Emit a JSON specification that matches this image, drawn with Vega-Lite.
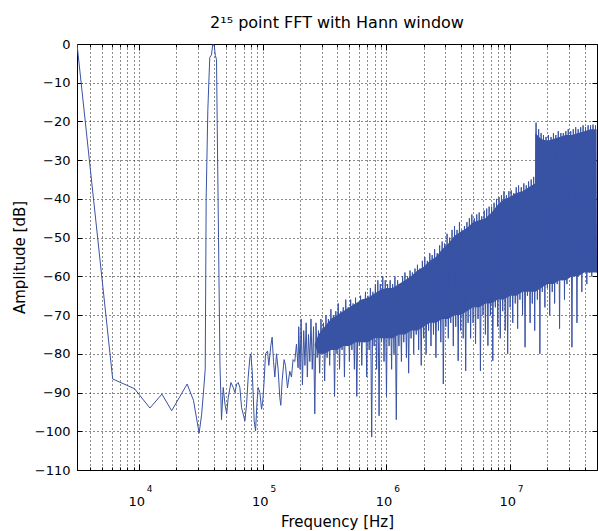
{
"$schema":"https://vega.github.io/schema/vega-lite/v6.json",
"width":520,"height":426,
"autosize":"none",
"padding":{"left":77,"top":44,"right":1,"bottom":61},
"background":"white",
"config":{"view":{"stroke":"#000","strokeWidth":1},"font":"DejaVu Sans"},
"title":{"text":"2¹⁵ point FFT with Hann window","fontSize":16,"fontWeight":"normal","color":"#000","offset":7},
"data":{"values":[
{"f":3140,"db":0},{"f":6104,"db":-86.5},{"f":9155,"db":-89},{"f":12207,"db":-94},{"f":15259,"db":-90.4},{"f":18311,"db":-94.7},{"f":21362,"db":-91},{"f":24414,"db":-87.8},{"f":27466,"db":-92},{"f":30518,"db":-100.5},
{"f":32000,"db":-95.6},{"f":33000,"db":-90.4},{"f":34200,"db":-84},{"f":34800,"db":-40},{"f":35900,"db":-17},{"f":37200,"db":-3.5},{"f":38400,"db":-2.8},{"f":39300,"db":-0.2},{"f":40400,"db":-0.3},{"f":41300,"db":-3},{"f":42200,"db":-4},{"f":42800,"db":-22},{"f":43800,"db":-50},{"f":45000,"db":-83},{"f":46300,"db":-97},
{"f":47800,"db":-88.7},{"f":49400,"db":-93},{"f":51000,"db":-95.5},{"f":52500,"db":-91.3},{"f":55200,"db":-87.4},{"f":57600,"db":-88.7},{"f":59500,"db":-90},{"f":61400,"db":-87.8},{"f":63200,"db":-87.4},{"f":65200,"db":-88.7},{"f":67300,"db":-93.9},{"f":69400,"db":-95.6},{"f":71600,"db":-97.3},{"f":73900,"db":-93},{"f":76100,"db":-86.1},{"f":78600,"db":-80.9},{"f":80000,"db":-80},{"f":82000,"db":-84.4},{"f":83500,"db":-90.4},{"f":85100,"db":-97.3},{"f":87300,"db":-99.9},{"f":89500,"db":-93},{"f":91600,"db":-88.7},{"f":94600,"db":-90},{"f":97600,"db":-94.3},
{"f":100000,"db":-92},{"f":102400,"db":-87},{"f":105100,"db":-80},{"f":109100,"db":-79.3},{"f":111800,"db":-83},{"f":116000,"db":-77.9},{"f":118900,"db":-75.7},{"f":122000,"db":-82},{"f":125000,"db":-86},{"f":129000,"db":-80},{"f":132900,"db":-84},{"f":137100,"db":-91.3},{"f":139700,"db":-93.3},{"f":143100,"db":-87},{"f":148500,"db":-81.5},{"f":152500,"db":-83},{"f":158200,"db":-88.8},{"f":165100,"db":-84.5},{"f":170400,"db":-86},{"f":175500,"db":-81.5},{"f":181200,"db":-82},{"f":187000,"db":-77.5},{"f":192700,"db":-83.6},
{"f":195000,"db":-73},{"f":200000,"db":-84},{"f":204000,"db":-71},{"f":209000,"db":-88},{"f":214000,"db":-74},{"f":219000,"db":-83},{"f":224000,"db":-72},{"f":229000,"db":-86},{"f":234000,"db":-75},{"f":240000,"db":-82},{"f":245000,"db":-71},{"f":251000,"db":-84},{"f":257000,"db":-73},{"f":263000,"db":-95.5},{"f":269000,"db":-72},{"f":275000,"db":-81},{"f":282000,"db":-74},{"f":288000,"db":-85},{"f":295000,"db":-71},{"f":302000,"db":-80},{"f":309000,"db":-72},{"f":316000,"db":-87},{"f":324000,"db":-70},{"f":331000,"db":-81},{"f":339000,"db":-71},{"f":347000,"db":-83},{"f":355000,"db":-68.5},{"f":363000,"db":-79},{"f":372000,"db":-70},{"f":380000,"db":-91},{"f":389000,"db":-69},{"f":398000,"db":-80},
{"f":407000,"db":-67},{"f":417000,"db":-84},{"f":427000,"db":-69},{"f":437000,"db":-79},{"f":447000,"db":-68},{"f":457000,"db":-86},{"f":468000,"db":-66},{"f":479000,"db":-78},{"f":490000,"db":-68},{"f":501000,"db":-82},{"f":513000,"db":-66},{"f":525000,"db":-79},{"f":537000,"db":-67},{"f":550000,"db":-84},{"f":562000,"db":-65.5},{"f":575000,"db":-91},{"f":589000,"db":-67},{"f":603000,"db":-78},{"f":617000,"db":-65},{"f":631000,"db":-83},{"f":646000,"db":-66},{"f":661000,"db":-77},{"f":676000,"db":-64},{"f":692000,"db":-86},{"f":708000,"db":-65},{"f":724000,"db":-79},{"f":741000,"db":-63},{"f":759000,"db":-101.5},{"f":776000,"db":-64},{"f":794000,"db":-78},{"f":813000,"db":-62},{"f":832000,"db":-84},{"f":851000,"db":-61},{"f":871000,"db":-96},{"f":891000,"db":-62},{"f":912000,"db":-77},{"f":933000,"db":-60},{"f":955000,"db":-82},{"f":977000,"db":-61},
{"f":1000000,"db":-91},{"f":1020000,"db":-62},{"f":1050000,"db":-78},{"f":1070000,"db":-61},{"f":1100000,"db":-84},{"f":1120000,"db":-62},{"f":1150000,"db":-80},{"f":1170000,"db":-60},{"f":1200000,"db":-97},{"f":1230000,"db":-61},{"f":1260000,"db":-78},{"f":1290000,"db":-62},{"f":1320000,"db":-82},{"f":1350000,"db":-60},{"f":1380000,"db":-77},{"f":1410000,"db":-59},{"f":1450000,"db":-81},{"f":1480000,"db":-60},{"f":1510000,"db":-85},{"f":1550000,"db":-58.5},{"f":1580000,"db":-76},{"f":1620000,"db":-59},{"f":1660000,"db":-80},{"f":1700000,"db":-58},{"f":1740000,"db":-75},{"f":1780000,"db":-57},{"f":1820000,"db":-79},{"f":1860000,"db":-58},{"f":1910000,"db":-83},{"f":1950000,"db":-56},
{"f":2000000,"db":-76},{"f":2040000,"db":-55},{"f":2090000,"db":-80},{"f":2140000,"db":-56},{"f":2190000,"db":-74},{"f":2240000,"db":-54},{"f":2290000,"db":-78},{"f":2340000,"db":-54.5},{"f":2400000,"db":-75},{"f":2450000,"db":-53},{"f":2510000,"db":-81},{"f":2570000,"db":-54},{"f":2630000,"db":-74},{"f":2690000,"db":-52},{"f":2750000,"db":-77},{"f":2820000,"db":-51},{"f":2880000,"db":-87.8},{"f":2950000,"db":-51.5},{"f":3020000,"db":-73},{"f":3090000,"db":-49},{"f":3160000,"db":-76},{"f":3240000,"db":-50},{"f":3310000,"db":-72},{"f":3390000,"db":-48},{"f":3470000,"db":-78},{"f":3550000,"db":-47},{"f":3630000,"db":-73},{"f":3720000,"db":-48},{"f":3800000,"db":-81.8},{"f":3890000,"db":-46},{"f":3980000,"db":-74},
{"f":4070000,"db":-48},{"f":4170000,"db":-76},{"f":4270000,"db":-47},{"f":4370000,"db":-84.4},{"f":4470000,"db":-46},{"f":4570000,"db":-72},{"f":4680000,"db":-45},{"f":4790000,"db":-76},{"f":4900000,"db":-44},{"f":5010000,"db":-72},{"f":5130000,"db":-45},{"f":5250000,"db":-77.4},{"f":5370000,"db":-44},{"f":5500000,"db":-71},{"f":5620000,"db":-43.5},{"f":5750000,"db":-84.4},{"f":5890000,"db":-44.5},{"f":6030000,"db":-70},{"f":6170000,"db":-43},{"f":6310000,"db":-75},{"f":6460000,"db":-42.5},{"f":6610000,"db":-77.9},{"f":6760000,"db":-42},{"f":6920000,"db":-70},{"f":7080000,"db":-42},{"f":7240000,"db":-81.8},{"f":7410000,"db":-41},{"f":7590000,"db":-68},{"f":7760000,"db":-40},{"f":7940000,"db":-73},{"f":8130000,"db":-39.5},{"f":8320000,"db":-76},{"f":8510000,"db":-39},{"f":8710000,"db":-69},{"f":8910000,"db":-38},{"f":9120000,"db":-74},{"f":9330000,"db":-39},{"f":9550000,"db":-80},{"f":9770000,"db":-38},
{"f":10000000,"db":-68},{"f":10200000,"db":-37.8},{"f":10500000,"db":-72},{"f":10700000,"db":-38.5},{"f":11000000,"db":-67},{"f":11200000,"db":-37},{"f":11500000,"db":-73.5},{"f":11700000,"db":-36.5},{"f":12000000,"db":-66},{"f":12300000,"db":-37},{"f":12600000,"db":-70},{"f":12900000,"db":-36},{"f":13200000,"db":-78.3},{"f":13500000,"db":-36.5},{"f":13800000,"db":-65},{"f":14100000,"db":-35.5},{"f":14500000,"db":-72},{"f":14800000,"db":-35},{"f":15100000,"db":-67},{"f":15500000,"db":-34.3},{"f":15800000,"db":-74},
{"f":16200000,"db":-20.3},{"f":16600000,"db":-66},{"f":17000000,"db":-22},{"f":17400000,"db":-80},{"f":17800000,"db":-23},{"f":18200000,"db":-64},{"f":18600000,"db":-23.5},{"f":19100000,"db":-68},{"f":19500000,"db":-24},{"f":20000000,"db":-63},{"f":20400000,"db":-23.5},{"f":20900000,"db":-70},{"f":21400000,"db":-24},{"f":21900000,"db":-64},{"f":22400000,"db":-23},{"f":22900000,"db":-67},{"f":23400000,"db":-23.5},{"f":24000000,"db":-62},{"f":24500000,"db":-22.5},{"f":25100000,"db":-73.5},{"f":25700000,"db":-23},{"f":26300000,"db":-61},{"f":26900000,"db":-23},{"f":27500000,"db":-66},{"f":28200000,"db":-22.5},{"f":28800000,"db":-62},{"f":29500000,"db":-22},{"f":30200000,"db":-60},{"f":30900000,"db":-22.5},{"f":31600000,"db":-78.3},{"f":32400000,"db":-22},{"f":33100000,"db":-60},{"f":33900000,"db":-21.5},{"f":34700000,"db":-72},{"f":35500000,"db":-22},{"f":36300000,"db":-59},{"f":37200000,"db":-21.5},{"f":38000000,"db":-64},{"f":38900000,"db":-21},{"f":39800000,"db":-58},{"f":40700000,"db":-21.5},{"f":41700000,"db":-62},{"f":42700000,"db":-21},{"f":43700000,"db":-59},{"f":44700000,"db":-21},{"f":45700000,"db":-60},{"f":46800000,"db":-20.8},{"f":47900000,"db":-58},{"f":49000000,"db":-21},{"f":50000000,"db":-59}
]},
"layer":[
{"data":{"values":[
{"f":263000,"hi":-77.5,"lo":-78},{"f":282000,"hi":-75,"lo":-80},{"f":316000,"hi":-73,"lo":-80},{"f":355000,"hi":-71,"lo":-79},{"f":398000,"hi":-70,"lo":-79},{"f":447000,"hi":-69,"lo":-78},{"f":501000,"hi":-68,"lo":-78},{"f":562000,"hi":-67,"lo":-77},{"f":631000,"hi":-66,"lo":-77},{"f":708000,"hi":-65.5,"lo":-77},{"f":794000,"hi":-64.5,"lo":-76},{"f":891000,"hi":-63.5,"lo":-76},
{"f":1000000,"hi":-63,"lo":-76},{"f":1120000,"hi":-63,"lo":-76},{"f":1260000,"hi":-62,"lo":-75},{"f":1410000,"hi":-61,"lo":-75},{"f":1580000,"hi":-60,"lo":-74},{"f":1780000,"hi":-58.5,"lo":-74},{"f":2000000,"hi":-57.5,"lo":-73},{"f":2240000,"hi":-56,"lo":-72},{"f":2510000,"hi":-55,"lo":-72},{"f":2820000,"hi":-53,"lo":-71},{"f":3160000,"hi":-51.5,"lo":-71},{"f":3550000,"hi":-49.5,"lo":-70},{"f":3980000,"hi":-48.5,"lo":-70},{"f":4470000,"hi":-47.5,"lo":-69},{"f":5010000,"hi":-46,"lo":-68},{"f":5620000,"hi":-45.5,"lo":-68},{"f":6310000,"hi":-45,"lo":-67},{"f":7080000,"hi":-43.5,"lo":-67},{"f":7940000,"hi":-41.5,"lo":-66},{"f":8910000,"hi":-40,"lo":-66},
{"f":10000000,"hi":-39.5,"lo":-65},{"f":11200000,"hi":-38.5,"lo":-65},{"f":12600000,"hi":-38,"lo":-64},{"f":14100000,"hi":-37,"lo":-64},{"f":15900000,"hi":-36,"lo":-64},{"f":16000000,"hi":-23,"lo":-64},{"f":17800000,"hi":-24.5,"lo":-63},{"f":20000000,"hi":-25,"lo":-62},{"f":22400000,"hi":-24.5,"lo":-62},{"f":25100000,"hi":-24,"lo":-61},{"f":28200000,"hi":-23.5,"lo":-61},{"f":31600000,"hi":-23.5,"lo":-60},{"f":35500000,"hi":-23,"lo":-60},{"f":39800000,"hi":-22.5,"lo":-59},{"f":44700000,"hi":-22,"lo":-59},{"f":50000000,"hi":-22,"lo":-59}
]},
 "mark":{"type":"area","color":"#3953a4","clip":true},
 "encoding":{
  "x":{"field":"f","type":"quantitative","scale":{"type":"log","domain":[3140,50400000],"nice":false},"axis":null},
  "y":{"field":"hi","type":"quantitative","scale":{"domain":[-110,0],"nice":false},"axis":null},
  "y2":{"field":"lo"}}},
{"mark":{"type":"line","color":"#3953a4","strokeWidth":1,"clip":true},
 "encoding":{
  "x":{"field":"f","type":"quantitative","scale":{"type":"log","domain":[3140,50400000],"nice":false},
   "axis":{"orient":"bottom","values":[4000,5000,6000,7000,8000,9000,10000,20000,30000,40000,50000,60000,70000,80000,90000,100000,200000,300000,400000,500000,600000,700000,800000,900000,1000000,2000000,3000000,4000000,5000000,6000000,7000000,8000000,9000000,10000000,20000000,30000000,40000000],
    "grid":true,"gridDash":[1,3],"gridColor":"#000","gridOpacity":0.9,"ticks":true,"tickSize":-3,"tickColor":"#000","labels":false,"domain":false,"title":null}},
  "y":{"field":"db","type":"quantitative","scale":{"domain":[-110,0],"nice":false},
   "axis":{"orient":"left","values":[-110,-100,-90,-80,-70,-60,-50,-40,-30,-20,-10,0],"grid":true,"gridDash":[1,3],"gridColor":"#000","gridOpacity":0.9,"ticks":true,"tickSize":-5,"tickColor":"#000","labels":false,"domain":false,"title":null}}}},
{"mark":{"type":"line","opacity":0},
 "encoding":{
  "x":{"field":"f","type":"quantitative","scale":{"type":"log","domain":[3140,50400000],"nice":false},
   "axis":{"orient":"bottom","values":[10000,100000,1000000,10000000],"grid":false,"ticks":true,"tickSize":-6,"tickColor":"#000","labels":false,"domain":false,"title":null}},
  "y":{"field":"db","type":"quantitative","scale":{"domain":[-110,0],"nice":false},
   "axis":{"orient":"right","values":[-110,-100,-90,-80,-70,-60,-50,-40,-30,-20,-10,0],"grid":false,"ticks":true,"tickSize":-5,"tickColor":"#000","labels":false,"domain":false,"title":null}}}},
{"mark":{"type":"line","opacity":0},
 "encoding":{
  "x":{"field":"f","type":"quantitative","scale":{"type":"log","domain":[3140,50400000],"nice":false},
   "axis":{"orient":"bottom","values":[10000,100000,1000000,10000000],"grid":false,"ticks":false,"labels":true,"labelExpr":"'10'","labelFontSize":13,"labelColor":"#000","labelBaseline":"middle","labelPadding":31,"labelOffset":-3,"domain":false,
    "title":"Frequency [Hz]","titleFontSize":15,"titleFontWeight":"normal","titleColor":"#000","titlePadding":6}},
  "y":{"field":"db","type":"quantitative","scale":{"domain":[-110,0],"nice":false},
   "axis":{"orient":"left","values":[-110,-100,-90,-80,-70,-60,-50,-40,-30,-20,-10,0],"grid":false,"ticks":false,"labels":true,"labelFontSize":13,"labelColor":"#000","labelPadding":7,"domain":false,
    "title":"Amplitude [dB]","titleFontSize":15,"titleFontWeight":"normal","titleColor":"#000","titlePadding":7}}}},
{"mark":{"type":"line","opacity":0},
 "encoding":{
  "x":{"field":"f","type":"quantitative","scale":{"type":"log","domain":[3140,50400000],"nice":false},
   "axis":{"orient":"bottom","values":[10000,100000,1000000,10000000],"grid":false,"ticks":false,"labels":true,"labelExpr":"toString(round(log(datum.value)/LN10))","labelFontSize":9,"labelColor":"#000","labelBaseline":"middle","labelPadding":18,"labelOffset":10,"domain":false,"title":null}},
  "y":{"field":"db","type":"quantitative","scale":{"domain":[-110,0],"nice":false},"axis":null}}},
{"mark":{"type":"line","opacity":0},
 "encoding":{
  "x":{"field":"f","type":"quantitative","scale":{"type":"log","domain":[3140,50400000],"nice":false},
   "axis":{"orient":"top","values":[4000,5000,6000,7000,8000,9000,20000,30000,40000,50000,60000,70000,80000,90000,200000,300000,400000,500000,600000,700000,800000,900000,2000000,3000000,4000000,5000000,6000000,7000000,8000000,9000000,20000000,30000000,40000000],
    "grid":false,"ticks":true,"tickSize":-3,"tickColor":"#000","labels":false,"domain":false,"title":null}},
  "y":{"field":"db","type":"quantitative","scale":{"domain":[-110,0],"nice":false},"axis":null}}},
{"mark":{"type":"line","opacity":0},
 "encoding":{
  "x":{"field":"f","type":"quantitative","scale":{"type":"log","domain":[3140,50400000],"nice":false},
   "axis":{"orient":"top","values":[10000,100000,1000000,10000000],"grid":false,"ticks":true,"tickSize":-6,"tickColor":"#000","labels":false,"domain":false,"title":null}},
  "y":{"field":"db","type":"quantitative","scale":{"domain":[-110,0],"nice":false},"axis":null}}}
],
"resolve":{"axis":{"x":"independent","y":"independent"}}
}
